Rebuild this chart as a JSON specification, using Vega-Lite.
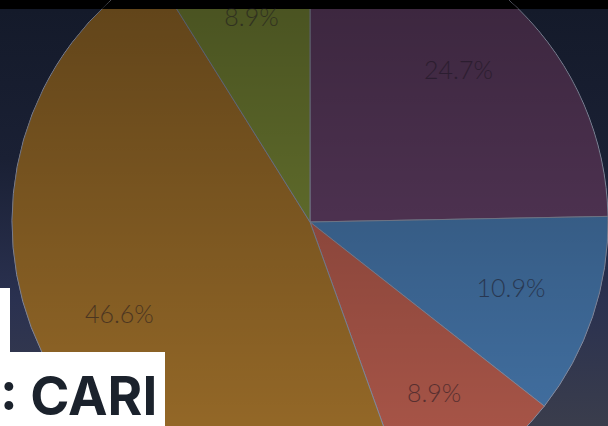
{
  "$schema": "https://vega.github.io/schema/vega-lite/v6.json",
  "width": 608,
  "height": 426,
  "autosize": {"type": "none"},
  "padding": 0,
  "background": "#1a2034",
  "data": {"values": [
    {"segment": "Segment 1", "share": 24.7, "label": "24.7%"},
    {"segment": "Segment 2", "share": 10.9, "label": "10.9%"},
    {"segment": "Segment 3", "share": 8.9, "label": "8.9%"},
    {"segment": "Segment 4", "share": 46.6, "label": "46.6%"},
    {"segment": "Segment 5", "share": 8.9, "label": "8.9%"}
  ]},
  "layer": [
    {
      "mark": {
        "type": "arc", "outerRadius": 800, "xOffset": 6, "yOffset": 9, "strokeWidth": 0,
        "fill": {"gradient": "linear", "x1": 0, "y1": 0, "x2": 0, "y2": 1, "stops": [
          {"offset": 0, "color": "#000000"},
          {"offset": 0.3668, "color": "#000000"},
          {"offset": 0.3672, "color": "#141a2a"},
          {"offset": 0.46, "color": "#1a2034"},
          {"offset": 0.5488, "color": "#2a3150"},
          {"offset": 0.6275, "color": "#3a3d4c"},
          {"offset": 1, "color": "#3a3d4c"}
        ]}
      },
      "encoding": {"theta": {"aggregate": "sum", "field": "share", "type": "quantitative"}}
    },
    {
      "mark": {"type": "arc", "outerRadius": 298, "xOffset": 6, "yOffset": 9, "stroke": "#8d93a8", "strokeWidth": 1},
      "encoding": {
        "theta": {"field": "share", "type": "quantitative", "stack": true},
        "order": {"field": "segment", "type": "nominal", "sort": "ascending"},
        "color": {
          "field": "segment", "type": "nominal",
          "scale": {"range": ["#623f66", "#4677ac", "#b25a4c", "#9e6f2a", "#788736"]},
          "legend": {
            "title": ": CARI", "values": [], "orient": "none", "legendX": -7, "legendY": 352,
            "fillColor": "#ffffff", "padding": 7,
            "titleFontSize": 53, "titleFont": "Inter", "titleFontWeight": 700,
            "titleColor": "#1b222c", "titlePadding": 0, "titleLimit": 400,
            "titleBaseline": "line-top", "titleLineHeight": 82
          }
        }
      }
    },
    {
      "mark": {
        "type": "arc", "outerRadius": 298, "xOffset": 6, "yOffset": 9, "strokeWidth": 0,
        "fill": {"gradient": "linear", "x1": 0, "y1": 0, "x2": 0, "y2": 1, "stops": [
          {"offset": 0, "color": "#000000"},
          {"offset": 0.142, "color": "#000000"},
          {"offset": 0.143, "color": "rgba(0,0,0,0.38)"},
          {"offset": 1, "color": "rgba(0,0,0,0)"}
        ]}
      },
      "encoding": {"theta": {"aggregate": "sum", "field": "share", "type": "quantitative"}}
    },
    {
      "mark": {"type": "text", "radius": 212, "xOffset": 6, "yOffset": 9, "fontSize": 25, "font": "Lato", "fontWeight": 300, "fill": "#1a1420", "opacity": 0.55},
      "encoding": {
        "theta": {"field": "share", "type": "quantitative", "stack": true},
        "order": {"field": "segment", "type": "nominal", "sort": "ascending"},
        "detail": {"field": "segment", "type": "nominal"},
        "text": {"field": "label"}
      }
    },
    {
      "mark": {"type": "arc", "outerRadius": 0, "innerRadius": 0, "strokeWidth": 0},
      "encoding": {
        "fill": {
          "datum": "strip", "type": "nominal",
          "scale": {"range": ["#ffffff"]},
          "legend": {
            "title": null, "orient": "none", "legendX": -5, "legendY": 310, "padding": 0,
            "symbolType": "M-0.5,-3.2H0.5V3.2H-0.5Z", "symbolSize": 400, "symbolStrokeWidth": 0,
            "symbolOpacity": 1, "symbolOffset": 0, "labelExpr": "''", "labelFontSize": 1
          }
        }
      }
    }
  ],
  "config": {"view": {"stroke": null, "fill": null}}
}
